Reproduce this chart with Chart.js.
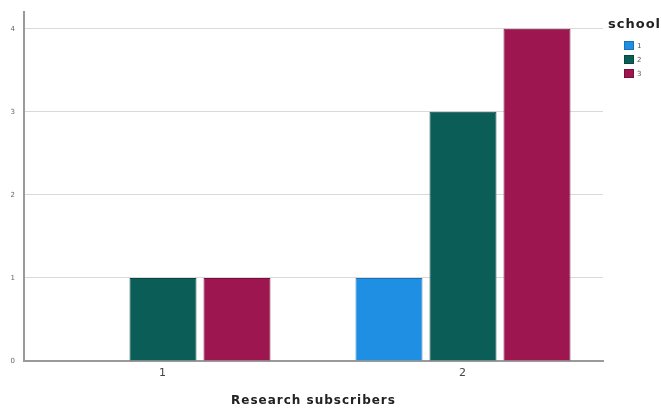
<!DOCTYPE html>
<html>
<head>
<meta charset="utf-8">
<script src="https://cdn.jsdelivr.net/npm/chart.js@4/dist/chart.umd.min.js"></script>
<style>
    html, body { margin: 0; padding: 0; background: #fff; }
    #wrap { width: 661px; height: 410px; position: relative; }
</style>
</head>
<body>
<div id="wrap"><canvas id="chart"></canvas></div>
<script>
// Dados do gráfico
const categories = ['1', '2'];
const schools = ['1', '2', '3'];
const school1 = [0, 1];
const school2 = [1, 3];
const school3 = [1, 4];
const yTicks = [0, 1, 2, 3, 4];

const colors = ['#1f8fe3', '#0b5e58', '#9d1650'];
const borders = ['#1a73b8', '#084843', '#7a0f3d'];

// Espaçamento de letras um pouco mais largo, como no gráfico original
const wideText = {
    id: 'wideText',
    beforeDraw(chart) {
        chart.ctx.letterSpacing = '1px';
    }
};

// Legenda à direita, estilo SPSS (título recuado, caixas menores)
const schoolLegend = {
    id: 'schoolLegend',
    afterDraw(chart) {
        const c = chart.ctx;
        const area = chart.chartArea;
        c.save();
        c.textBaseline = 'middle';
        c.textAlign = 'left';
        c.fillStyle = '#222';
        c.letterSpacing = '1px';
        c.font = 'bold 13px "DejaVu Sans"';
        c.fillText('school', area.right + 5, 25);
        c.font = '7px "DejaVu Sans"';
        chart.data.datasets.forEach((ds, i) => {
            const y = 41 + i * 14;
            c.fillStyle = ds.backgroundColor;
            c.fillRect(area.right + 21, y, 10, 9);
            c.strokeStyle = ds.borderColor;
            c.lineWidth = 1;
            c.strokeRect(area.right + 21.5, y + 0.5, 9, 8);
            c.fillStyle = '#555';
            c.fillText(ds.label, area.right + 34, y + 5);
        });
        c.restore();
    }
};

const ctx = document.getElementById('chart');

new Chart(ctx, {
    type: 'bar',
    data: {
        labels: categories,
        datasets: [school1, school2, school3].map((values, i) => ({
            label: schools[i],
            data: values,
            backgroundColor: colors[i],
            borderColor: borders[i],
            borderWidth: 1,
            categoryPercentage: 0.74,
            barPercentage: 0.905
        }))
    },
    options: {
        responsive: true,
        maintainAspectRatio: false,
        animation: false,
        layout: {
            padding: { top: 12, right: 58, left: 0, bottom: 0 }
        },
        plugins: {
            legend: { display: false },
            tooltip: { enabled: false }
        },
        scales: {
            x: {
                offset: true,
                grid: { display: false, drawTicks: false },
                border: { color: '#9a9a9a', width: 2 },
                ticks: {
                    padding: 6,
                    font: { family: 'DejaVu Sans', size: 11 },
                    color: '#444'
                },
                title: {
                    display: true,
                    text: 'Research subscribers',
                    font: { family: 'DejaVu Sans', size: 12, weight: 'bold' },
                    color: '#222',
                    padding: { top: 8, bottom: 2 }
                },
                afterFit: (scale) => { scale.height = 49; },
                // categorias centradas como no SPSS (margens laterais de ~139px)
                afterUpdate: (scale) => {
                    const unit = 300;
                    const len = scale.right - scale.left;
                    scale._startValue = -139 / unit;
                    scale._valueRange = len / unit;
                }
            },
            y: {
                min: 0,
                max: 4.2,
                afterBuildTicks: (scale) => {
                    scale.ticks = yTicks.map(v => ({ value: v }));
                },
                grid: {
                    color: '#d9d9d9',
                    lineWidth: 1,
                    drawTicks: false
                },
                border: { color: '#9a9a9a', width: 2 },
                ticks: {
                    padding: 8,
                    font: { family: 'DejaVu Sans', size: 7 },
                    color: '#666'
                },
                afterFit: (scale) => { scale.width = 24; }
            }
        }
    },
    plugins: [wideText, schoolLegend]
});
</script>
</body>
</html>
